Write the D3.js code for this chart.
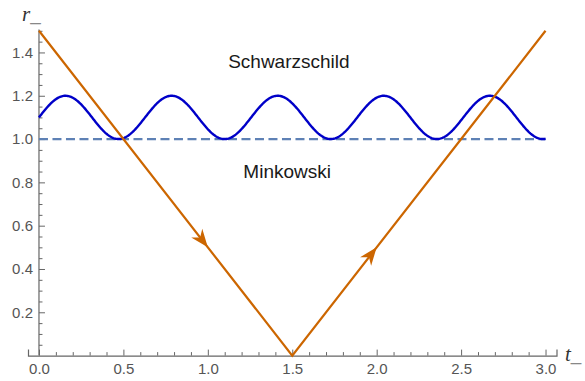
<!DOCTYPE html>
<html>
<head>
<meta charset="utf-8">
<script src="https://cdn.jsdelivr.net/npm/d3@7"></script>
<style>
  html, body { margin: 0; padding: 0; background: #fff; }
  svg { display: block; }
</style>
</head>
<body>
<svg id="chart" width="585" height="381"></svg>
<script>
// Light-ray path (Minkowski): t and r at the corners of the V
const rayT = [0, 1.5, 3];
const rayR = [1.5, 0, 1.5];
// Arrowhead tips along the ray
const arrowT = [1, 2];
const arrowR = [0.5, 0.5];
// Schwarzschild orbit r(t) = base + amp * sin(freq * t)
const orbitBase = [1.1];
const orbitAmp = [0.1];
const orbitFreq = [10];
const orbitSpan = [0, 3];
// Reference line r = 1
const horizonR = [1.0];
// Tick values
const xMajor = [0, 0.5, 1, 1.5, 2, 2.5, 3];
const xMinor = [0.1, 0.2, 0.3, 0.4, 0.6, 0.7, 0.8, 0.9, 1.1, 1.2, 1.3, 1.4, 1.6, 1.7, 1.8, 1.9, 2.1, 2.2, 2.3, 2.4, 2.6, 2.7, 2.8, 2.9];
const yMajor = [0.2, 0.4, 0.6, 0.8, 1.0, 1.2, 1.4];
const yMinor = [0.05, 0.1, 0.15, 0.25, 0.3, 0.35, 0.45, 0.5, 0.55, 0.65, 0.7, 0.75, 0.85, 0.9, 0.95, 1.05, 1.1, 1.15, 1.25, 1.3, 1.35, 1.45, 1.5];
// Region labels
const labels = [
  { text: "Schwarzschild", t: 1.48, r: 1.36 },
  { text: "Minkowski", t: 1.47, r: 0.85 }
];

const svg = d3.select("#chart");
const x = d3.scaleLinear().domain([-0.065, 3.065]).range([28, 556.5]);
const y = d3.scaleLinear().domain([0, 1.506]).range([355.6, 29.5]);

const axisColor = "#666";
const fontSans = "'Liberation Sans', Arial, sans-serif";

// Axes
const gx = svg.append("g").attr("transform", `translate(0,${y(0)})`);
gx.call(d3.axisBottom(x).tickValues(xMinor).tickSize(-3.5).tickFormat(""));
gx.call(g => g.selectAll(".domain").remove());
const gxMaj = svg.append("g").attr("transform", `translate(0,${y(0)})`)
  .call(d3.axisBottom(x).tickValues(xMajor).tickSize(-6).tickPadding(8).tickFormat(d3.format(".1f")));

const gy = svg.append("g").attr("transform", `translate(${x(0)},0)`);
gy.call(d3.axisLeft(y).tickValues(yMinor).tickSize(-3.5).tickFormat(""));
gy.call(g => g.selectAll(".domain").remove());
const gyMaj = svg.append("g").attr("transform", `translate(${x(0)},0)`)
  .call(d3.axisLeft(y).tickValues(yMajor).tickSize(-6).tickPadding(6).tickFormat(d3.format(".1f")));

svg.selectAll(".domain").attr("stroke", axisColor).attr("stroke-width", 1.2);
gyMaj.select(".domain").attr("d", `M0,${y(0)}V${y(1.506)}`);
svg.selectAll(".tick line").attr("stroke", axisColor).attr("stroke-width", 1);
svg.selectAll(".tick text")
  .attr("fill", "#555")
  .style("font-family", fontSans)
  .style("font-size", "15px");

// Axis titles
const title = (tx, ty, sym) => {
  const t = svg.append("text").attr("x", tx).attr("y", ty)
    .style("font-family", "'Liberation Serif', 'DejaVu Serif', serif")
    .style("font-size", "21px").attr("fill", "#333");
  t.append("tspan").style("font-style", "italic").text(sym);
  t.append("tspan").attr("fill", "#888").text("_");
};
title(22, 21, "r");
title(565, 361, "t");

// Reference line r = 1
svg.append("line")
  .attr("x1", x(orbitSpan[0])).attr("x2", x(orbitSpan[1]))
  .attr("y1", y(horizonR[0])).attr("y2", y(horizonR[0]))
  .attr("stroke", "#5E81B5").attr("stroke-width", 2.2)
  .attr("stroke-dasharray", "9,4.5");

// Schwarzschild orbit
const orbit = d3.range(0, 601).map(i => {
  const t = orbitSpan[0] + (orbitSpan[1] - orbitSpan[0]) * i / 600;
  return [t, orbitBase[0] + orbitAmp[0] * Math.sin(orbitFreq[0] * t)];
});
svg.append("path")
  .attr("d", d3.line().x(d => x(d[0])).y(d => y(d[1]))(orbit))
  .attr("fill", "none").attr("stroke", "#0000c8").attr("stroke-width", 2.4);

// Light ray
const orange = "#cc6600";
const ray = rayT.map((t, i) => [t, rayR[i]]);
svg.append("path")
  .attr("d", d3.line().x(d => x(d[0])).y(d => y(d[1]))(ray))
  .attr("fill", "none").attr("stroke", orange).attr("stroke-width", 2.2)
  .attr("stroke-linejoin", "miter");

// Arrowheads, oriented along the segment each tip sits on
arrowT.forEach((t, i) => {
  const seg = ray.findIndex((p, j) => j < ray.length - 1 && t >= p[0] && t <= ray[j + 1][0]);
  const a = ray[seg], b = ray[seg + 1];
  const ang = Math.atan2(y(b[1]) - y(a[1]), x(b[0]) - x(a[0])) * 180 / Math.PI;
  const L = 18, W = 7, N = 12.5;
  svg.append("path")
    .attr("d", `M0,0L${-L},${-W}L${-N},0L${-L},${W}Z`)
    .attr("transform", `translate(${x(t)},${y(arrowR[i])}) rotate(${ang})`)
    .attr("fill", orange);
});

// Region labels
svg.selectAll("text.region").data(labels).join("text")
  .attr("class", "region")
  .attr("x", d => x(d.t)).attr("y", d => y(d.r))
  .attr("text-anchor", "middle").attr("dominant-baseline", "central")
  .style("font-family", fontSans).style("font-size", "19px")
  .attr("fill", "#1a1a1a")
  .text(d => d.text);
</script>
</body>
</html>
